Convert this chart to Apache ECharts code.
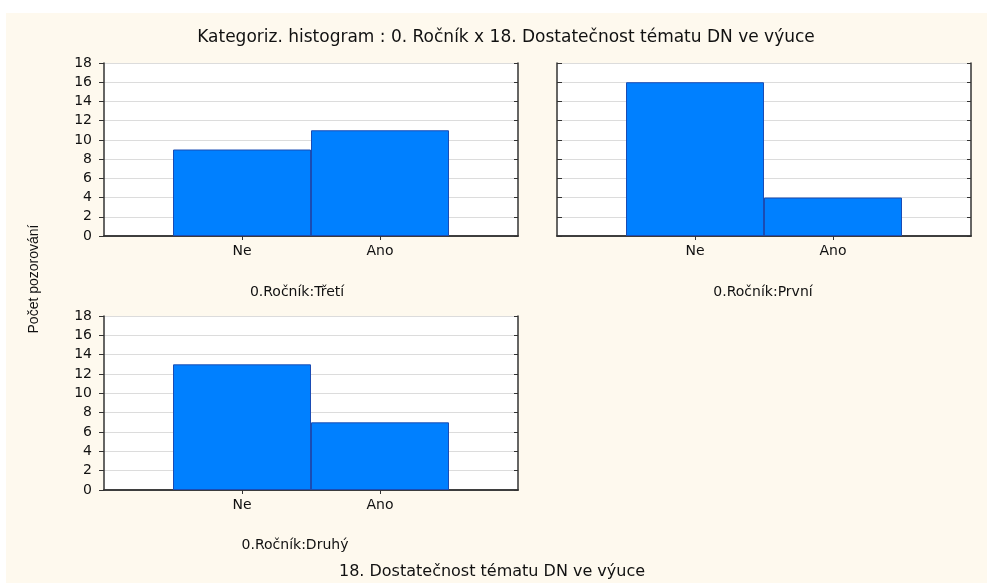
<!DOCTYPE html>
<html>
<head>
<meta charset="utf-8">
<script src="https://cdn.jsdelivr.net/npm/echarts@6/dist/echarts.min.js"></script>
<style>
html,body{margin:0;padding:0;background:#fff;}
#c{width:987px;height:583px;}
</style>
</head>
<body>
<div id="c"></div>
<script>
// ---- data ----
const categories = ['Ne', 'Ano'];
const panelNames = ['0.Ročník:Třetí', '0.Ročník:První', '0.Ročník:Druhý'];
const valuesTreti = [9, 11];
const valuesPrvni = [16, 4];
const valuesDruhy = [13, 7];
const yTicks = [0, 2, 4, 6, 8, 10, 12, 14, 16, 18];
const titleText = 'Kategoriz. histogram : 0. Ročník x 18. Dostatečnost tématu DN ve výuce';
const xTitle = '18. Dostatečnost tématu DN ve výuce';
const yTitle = 'Počet pozorování';

// ---- layout / style ----
const FONT = 'DejaVu Sans';
const CREAM = '#FEF9EE';
const LINE = '#333333';
const panels = [
  { left: 104, top: 63, width: 414, height: 173, values: valuesTreti, labels: true,
    name: panelNames[0], nameX: 297, nameY: 292 },
  { left: 557, top: 63, width: 414, height: 173, values: valuesPrvni, labels: false,
    name: panelNames[1], nameX: 763, nameY: 292 },
  { left: 104, top: 316, width: 414, height: 174, values: valuesDruhy, labels: true,
    name: panelNames[2], nameX: 295, nameY: 545 }
];
const axisCats = [''].concat(categories, ['']);
const yMin = yTicks[0], yMax = yTicks[yTicks.length - 1], yStep = yTicks[1] - yTicks[0];

const grid = [], xAxis = [], yAxis = [], series = [], graphic = [];
graphic.push({ type: 'rect', shape: { x: 6, y: 13, width: 981, height: 570 },
  style: { fill: CREAM }, z: -100, silent: true });

panels.forEach((p, i) => {
  grid.push({ left: p.left, top: p.top, width: p.width, height: p.height,
    show: true, backgroundColor: '#ffffff', borderWidth: 0 });
  const tickFilter = (idx) => idx > 0 && idx < axisCats.length - 1;
  xAxis.push({
    type: 'category', gridIndex: i, position: 'bottom', data: axisCats, boundaryGap: false,
    axisLine: { show: true, lineStyle: { color: LINE, width: 1.5 } },
    axisTick: { show: true, inside: true, length: 4, interval: tickFilter, lineStyle: { color: LINE } },
    axisLabel: { show: true, interval: 0, color: '#111', fontFamily: FONT, fontSize: 14, margin: 8 },
    splitLine: { show: false }
  });
  xAxis.push({
    type: 'category', gridIndex: i, position: 'top', data: axisCats, boundaryGap: false,
    axisLine: { show: true, lineStyle: { color: LINE, width: 1.5 } },
    axisTick: { show: true, inside: true, length: 4, interval: tickFilter, lineStyle: { color: LINE } },
    axisLabel: { show: false }, splitLine: { show: false }
  });
  yAxis.push({
    type: 'value', gridIndex: i, position: 'left', min: yMin, max: yMax, interval: yStep,
    axisLine: { show: true, lineStyle: { color: LINE, width: 1.5 } },
    axisTick: { show: true, inside: !p.labels, length: 5, lineStyle: { color: LINE } },
    axisLabel: { show: p.labels, color: '#111', fontFamily: FONT, fontSize: 14, margin: 12 },
    splitLine: { show: true, lineStyle: { color: '#dcdcdc', width: 1 } }
  });
  yAxis.push({
    type: 'value', gridIndex: i, position: 'right', min: yMin, max: yMax, interval: yStep,
    axisLine: { show: true, lineStyle: { color: LINE, width: 1.5 } },
    axisTick: { show: true, inside: true, length: 4, lineStyle: { color: LINE } },
    axisLabel: { show: false }, splitLine: { show: false }
  });
  series.push({
    type: 'bar', xAxisIndex: i * 2, yAxisIndex: i * 2,
    data: ['-'].concat(p.values, ['-']),
    barWidth: '100%',
    itemStyle: { color: '#0080FF', borderColor: '#1a4cb4', borderWidth: 1 },
    silent: true, animation: false
  });
  graphic.push({ type: 'text', x: p.nameX, y: p.nameY,
    style: { text: p.name, fill: '#111', font: '14px "' + FONT + '"', textAlign: 'center', textVerticalAlign: 'middle' } });
});

graphic.push({ type: 'text', x: 506, y: 38,
  style: { text: titleText, fill: '#111', font: '17px "' + FONT + '"', textAlign: 'center', textVerticalAlign: 'middle' } });
graphic.push({ type: 'text', x: 492, y: 572,
  style: { text: xTitle, fill: '#111', font: '16px "' + FONT + '"', textAlign: 'center', textVerticalAlign: 'middle' } });
graphic.push({ type: 'text', x: 34, y: 279, rotation: Math.PI / 2,
  style: { text: yTitle, fill: '#111', font: '14px "Liberation Sans Narrow", "Liberation Sans", sans-serif', textAlign: 'center', textVerticalAlign: 'middle' } });

const chart = echarts.init(document.getElementById('c'), null, { renderer: 'canvas' });
chart.setOption({
  animation: false,
  backgroundColor: '#ffffff',
  grid, xAxis, yAxis, series, graphic
});
</script>
</body>
</html>
